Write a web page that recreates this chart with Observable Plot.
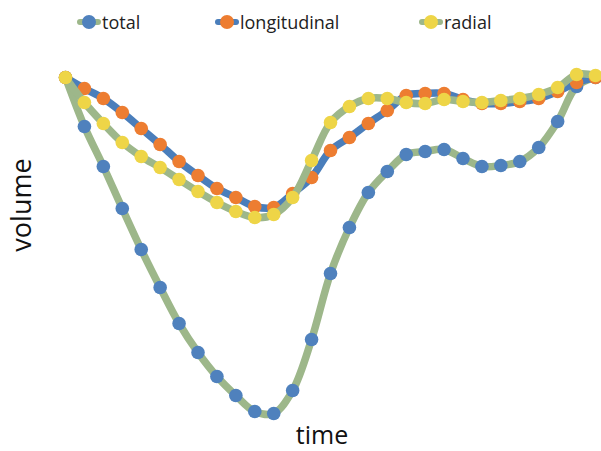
<!DOCTYPE html>
<html>
<head>
<meta charset="utf-8">
<script src="https://cdn.jsdelivr.net/npm/d3@7"></script>
<script src="https://cdn.jsdelivr.net/npm/@observablehq/plot@0.6"></script>
<style>
  html, body { margin: 0; padding: 0; background: #fff; }
  #wrap { position: relative; width: 601px; height: 451px; font-family: "Open Sans", "Liberation Sans", sans-serif; }
  #legend { position: relative; width: 601px; height: 40px; }
  .item { position: absolute; top: 10px; display: flex; align-items: center; font-size: 18px; color: #222; }
  .sw { position: relative; width: 24px; height: 14px; margin-right: 1px; }
  .sw .ln { position: absolute; left: 0; right: 0; top: 4px; height: 6px; border-radius: 3px; }
  .sw .dt { position: absolute; left: 5px; top: 0; width: 14px; height: 14px; border-radius: 7px; }
  #chart { position: relative; z-index: 1; height: 378px; }
  #chart svg { display: block; overflow: visible !important; }
  #ylab { position: absolute; left: 20px; top: 205px; transform: translate(-50%, -50%) rotate(-90deg); font-size: 27px; line-height: 27px; color: #111; white-space: nowrap; }
  #xlab { height: 32px; padding-left: 43px; text-align: center; font-size: 25px; line-height: 32px; color: #111; }
</style>
</head>
<body>
<div id="wrap">
  <div id="legend"></div>
  <div id="chart"></div>
  <div id="xlab">time</div>
  <div id="ylab">volume</div>
</div>
<script>
// time index (frames)
const time = d3.range(29);

// volume readings (arbitrary units)
const total = [343, 294, 254, 212, 171, 133, 97, 68, 44, 25, 9, 7, 30, 81, 147, 193, 228, 249, 266, 269, 271, 262, 254, 255, 259, 273, 299, 334, 343];
const longitudinal = [343, 332, 322, 308, 292, 276, 259, 245, 232, 223, 214, 213, 227, 243, 270, 283, 297, 310, 325, 327, 327, 321, 317, 317, 319, 322, 329, 338, 343];
const radial = [343, 318, 297, 278, 264, 253, 241, 229, 218, 209, 203, 206, 223, 260, 298, 314, 322, 322, 318, 317, 321, 319, 318, 320, 322, 326, 333, 346, 345];

const seriesNames = ["total", "longitudinal", "radial"];
const lineColors = ["#9db78a", "#4a7ebb", "#9db78a"];
const dotColors = ["#4f81bd", "#ed7d31", "#eed547"];
const seriesValues = [total, longitudinal, radial];

const series = seriesNames.map((name, k) => time.map((t, i) => ({t, v: seriesValues[k][i], name})));

// legend (HTML)
const legendX = [77, 215, 419];
const legend = document.getElementById("legend");
seriesNames.forEach((name, k) => {
  const item = document.createElement("div");
  item.className = "item";
  item.style.left = legendX[k] + "px";
  item.innerHTML = `<div class="sw"><div class="ln" style="background:${lineColors[k]}"></div><div class="dt" style="background:${dotColors[k]}"></div></div><span>${name}</span>`;
  legend.appendChild(item);
});

const marks = [];
series.forEach((data, k) => {
  marks.push(Plot.line(data, {x: "t", y: "v", stroke: lineColors[k], strokeWidth: 7.5, curve: "catmull-rom"}));
  marks.push(Plot.dot(data, {x: "t", y: "v", r: 6.8, fill: dotColors[k], stroke: "none"}));
});

const chart = Plot.plot({
  width: 601,
  height: 378,
  marginLeft: 65,
  marginRight: 6,
  marginTop: 30,
  marginBottom: 0,
  style: {overflow: "visible"},
  x: {domain: [0, 28], axis: null},
  y: {domain: [2, 350], axis: null},
  marks
});
document.getElementById("chart").appendChild(chart);
</script>
</body>
</html>
